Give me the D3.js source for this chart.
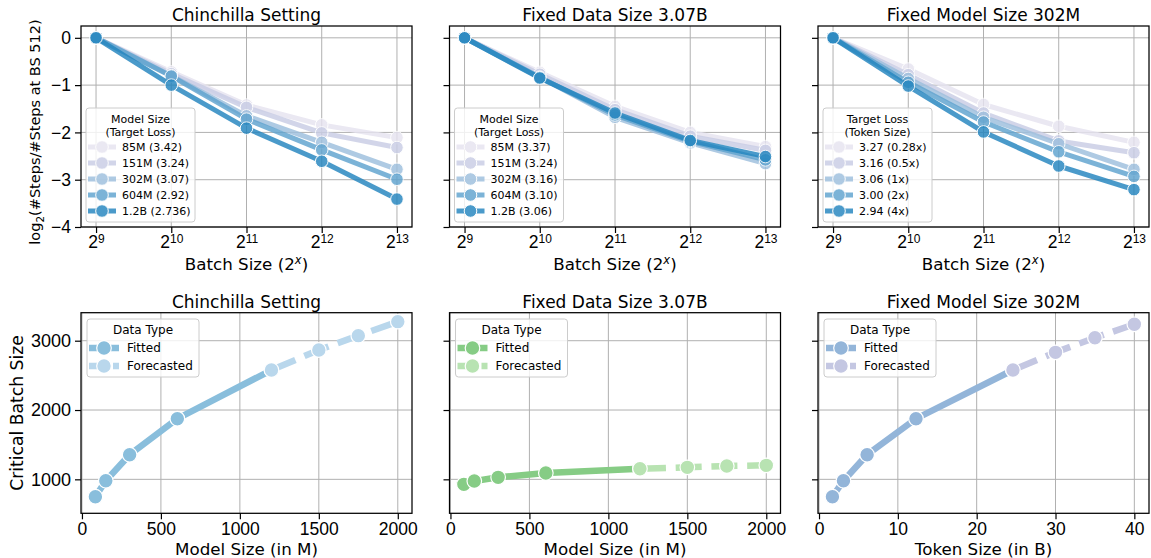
<!DOCTYPE html>
<html><head><meta charset="utf-8">
<script src="https://cdn.jsdelivr.net/npm/d3@7"></script>
<style>
body{margin:0;background:#fff;}
svg{font-family:"DejaVu Sans",sans-serif;}
</style></head><body><div id="chart"></div>
<script>
// ---- top row data: log2(#steps / #steps at BS 512) ----
var batchExp = [9, 10, 11, 12, 13];

var chinNames = ["85M (3.42)", "151M (3.24)", "302M (3.07)", "604M (2.92)", "1.2B (2.736)"];
var chinSteps = [
    [0, -0.72, -1.42, -1.84, -2.11],
    [0, -0.76, -1.47, -2.01, -2.32],
    [0, -0.80, -1.65, -2.21, -2.78],
    [0, -0.81, -1.72, -2.37, -2.99],
    [0, -1.00, -1.91, -2.61, -3.41]
];
var dataNames = ["85M (3.37)", "151M (3.24)", "302M (3.16)", "604M (3.10)", "1.2B (3.06)"];
var dataSteps = [
    [0, -0.73, -1.45, -2.00, -2.30],
    [0, -0.77, -1.52, -2.08, -2.38],
    [0, -0.83, -1.68, -2.22, -2.66],
    [0, -0.84, -1.63, -2.19, -2.58],
    [0, -0.85, -1.59, -2.17, -2.51]
];
var tokNames = ["3.27 (0.28x)", "3.16 (0.5x)", "3.06 (1x)", "3.00 (2x)", "2.94 (4x)"];
var tokSteps = [
    [0, -0.66, -1.41, -1.87, -2.21],
    [0, -0.78, -1.59, -2.18, -2.43],
    [0, -0.86, -1.68, -2.24, -2.78],
    [0, -0.94, -1.78, -2.41, -2.93],
    [0, -1.02, -1.99, -2.71, -3.21]
];

// ---- bottom row data: critical batch size ----
var modelFit = [85, 151, 302, 604, 1200];
var modelCast = [1200, 1500, 1750, 2000];
var chinCbsFit = [749, 980, 1355, 1875, 2577];
var chinCbsCast = [2577, 2866, 3073, 3275];
var dataCbsFit = [928, 975, 1029, 1091, 1153];
var dataCbsCast = [1153, 1173, 1192, 1202];
var tokenFit = [1.7, 3.1, 6.1, 12.3, 24.6];
var tokenCast = [24.6, 30, 35, 40];
var tokCbsFit = [749, 980, 1355, 1875, 2577];
var tokCbsCast = [2577, 2832, 3043, 3237];

var yTicksTop = [0, -1, -2, -3, -4];
var yTicksBot = [1000, 2000, 3000];
var xTicksModel = [0, 500, 1000, 1500, 2000];
var xTicksToken = [0, 10, 20, 30, 40];

var stepColors = ["#e6e3f0", "#c9cde5", "#9dbfdd", "#5fa3cf", "#2385bf"];

var W = 1151, H = 558;
var lefts = [81, 449.5, 818], pw = 331;
var topRow = {t: 26, b: 227}, botRow = {t: 312.7, b: 513.3};

var svg = d3.select('#chart').append('svg')
    .attr('width', W).attr('height', H);

function styleAxis(g) {
    g.selectAll('.domain').remove();
    g.selectAll('.tick line').attr('stroke', '#000').attr('stroke-width', 1.2);
    g.selectAll('.tick text').attr('fill', '#000');
}

function frame(left, row, xScale, yScale, xTicks, yTicks, yLabels, xFont, yFont) {
    var g = svg.append('g');
    // grid
    g.selectAll('.gx').data(xTicks).enter().append('line')
        .attr('x1', function(d){ return xScale(d); }).attr('x2', function(d){ return xScale(d); })
        .attr('y1', row.t).attr('y2', row.b)
        .attr('stroke', '#b0b0b0').attr('stroke-width', 1);
    g.selectAll('.gy').data(yTicks).enter().append('line')
        .attr('y1', function(d){ return yScale(d); }).attr('y2', function(d){ return yScale(d); })
        .attr('x1', left).attr('x2', left + pw)
        .attr('stroke', '#b0b0b0').attr('stroke-width', 1);

    var xa = g.append('g').attr('class', 'xaxis').attr('transform', 'translate(0,' + row.b + ')')
        .call(d3.axisBottom(xScale).tickValues(xTicks).tickSize(6).tickPadding(3).tickFormat(d3.format('d')));
    styleAxis(xa);
    xa.selectAll('text').attr('font-size', xFont);

    var ya = g.append('g').attr('transform', 'translate(' + left + ',0)')
        .call(d3.axisLeft(yScale).tickValues(yTicks).tickSize(6).tickPadding(4)
            .tickFormat(yLabels ? d3.format('d') : function(){ return ''; }));
    styleAxis(ya);
    ya.selectAll('text').attr('font-size', yFont);
    return g;
}

function spine(left, row) {
    svg.append('rect').attr('x', left).attr('y', row.t)
        .attr('width', pw).attr('height', row.b - row.t)
        .attr('fill', 'none').attr('stroke', '#000').attr('stroke-width', 1.25);
}

function legendBox(x, y, w, h) {
    svg.append('rect').attr('x', x).attr('y', y).attr('width', w).attr('height', h)
        .attr('rx', 3).attr('fill', '#fff').attr('fill-opacity', 0.8)
        .attr('stroke', '#cccccc').attr('stroke-width', 1);
}

function drawTop(k, title, names, steps, legTitle) {
    var left = lefts[k];
    var x = d3.scaleLinear().domain([8.8, 13.2]).range([left, left + pw]);
    var y = d3.scaleLinear().domain([-4, 0.25]).range([topRow.b, topRow.t]);
    var g = frame(left, topRow, x, y, batchExp, yTicksTop, k == 0, 17.5, 17.5);
    // superscript tick labels 2^x
    g.select('.xaxis').selectAll('text')
        .each(function(d){
            var t = d3.select(this).text('');
            t.append('tspan').text('2');
            t.append('tspan').attr('font-size', 12).attr('dy', '-0.45em').text(d);
        });

    var line = d3.line().x(function(d, i){ return x(batchExp[i]); }).y(function(d){ return y(d); });
    steps.forEach(function(s, i) {
        var sg = svg.append('g').attr('opacity', 0.82);
        sg.append('path').attr('d', line(s)).attr('fill', 'none')
            .attr('stroke', stepColors[i]).attr('stroke-width', 5).attr('stroke-linejoin', 'round');
        sg.selectAll('circle').data(s).enter().append('circle')
            .attr('cx', function(d, j){ return x(batchExp[j]); })
            .attr('cy', function(d){ return y(d); })
            .attr('r', 6.3).attr('fill', stepColors[i])
            .attr('stroke', '#fff').attr('stroke-width', 1);
    });
    spine(left, topRow);

    // title + axis label
    svg.append('text').attr('x', left + pw / 2).attr('y', 21).attr('text-anchor', 'middle')
        .attr('font-size', 17).text(title);
    var xl = svg.append('text').attr('x', left + pw / 2).attr('y', 270).attr('text-anchor', 'middle')
        .attr('font-size', 16.7);
    xl.append('tspan').text('Batch Size (2');
    xl.append('tspan').attr('font-size', 11.5).attr('dy', '-0.55em').attr('font-style', 'italic').text('x');
    xl.append('tspan').attr('dy', '0.35em').text(')');

    // legend
    var bx = left + 5, by = 108, bw = 109;
    legendBox(bx, by, bw, 114);
    svg.append('text').attr('x', bx + bw / 2).attr('y', 123).attr('text-anchor', 'middle')
        .attr('font-size', 11).text(legTitle[0]);
    svg.append('text').attr('x', bx + bw / 2).attr('y', 136).attr('text-anchor', 'middle')
        .attr('font-size', 11).text(legTitle[1]);
    names.forEach(function(n, i) {
        var cy = 147 + i * 16;
        var lg = svg.append('g').attr('opacity', 0.82);
        lg.append('line').attr('x1', bx + 2).attr('x2', bx + 30).attr('y1', cy).attr('y2', cy)
            .attr('stroke', stepColors[i]).attr('stroke-width', 5);
        lg.append('circle').attr('cx', bx + 16).attr('cy', cy).attr('r', 6.3)
            .attr('fill', stepColors[i]).attr('stroke', '#fff').attr('stroke-width', 1);
        svg.append('text').attr('x', bx + 36).attr('y', cy + 4).attr('font-size', 11).text(n);
    });
}

function drawBottom(k, title, xDomain, xTicks, xLabel, xf, yf, xc, yc, cFit, cCast) {
    var left = lefts[k];
    var x = d3.scaleLinear().domain(xDomain).range([left, left + pw]);
    var y = d3.scaleLinear().domain([510, 3404]).range([botRow.b, botRow.t]);
    frame(left, botRow, x, y, xTicks, yTicksBot, k == 0, 17.5, 18);

    var line = d3.line().x(function(d){ return x(d[0]); }).y(function(d){ return y(d[1]); });
    var fit = d3.zip(xf, yf), cast = d3.zip(xc, yc);
    svg.append('path').attr('d', line(fit)).attr('fill', 'none')
        .attr('stroke', cFit).attr('stroke-width', 6.5);
    svg.selectAll(null).data(fit).enter().append('circle')
        .attr('cx', function(d){ return x(d[0]); }).attr('cy', function(d){ return y(d[1]); })
        .attr('r', 7.3).attr('fill', cFit).attr('stroke', '#fff').attr('stroke-width', 1.2);
    svg.append('path').attr('d', line(cast)).attr('fill', 'none')
        .attr('stroke', cCast).attr('stroke-width', 6.5).attr('stroke-dasharray', '26,9.75');
    svg.selectAll(null).data(cast).enter().append('circle')
        .attr('cx', function(d){ return x(d[0]); }).attr('cy', function(d){ return y(d[1]); })
        .attr('r', 7.3).attr('fill', cCast).attr('stroke', '#fff').attr('stroke-width', 1.2);
    spine(left, botRow);

    svg.append('text').attr('x', left + pw / 2).attr('y', 308).attr('text-anchor', 'middle')
        .attr('font-size', 17).text(title);
    svg.append('text').attr('x', left + pw / 2).attr('y', 555).attr('text-anchor', 'middle')
        .attr('font-size', 16.7).text(xLabel);

    // legend
    var bx = left + 6, by = 319, bw = 112;
    legendBox(bx, by, bw, 58);
    svg.append('text').attr('x', bx + bw / 2).attr('y', 334).attr('text-anchor', 'middle')
        .attr('font-size', 12).text('Data Type');
    [["Fitted", cFit, null], ["Forecasted", cCast, '9,3']].forEach(function(e, i) {
        var cy = 348 + i * 18;
        var hl = svg.append('line').attr('x1', bx + 2).attr('x2', bx + 32).attr('y1', cy).attr('y2', cy)
            .attr('stroke', e[1]).attr('stroke-width', 6.5);
        if (e[2]) hl.attr('stroke-dasharray', e[2]);
        svg.append('circle').attr('cx', bx + 17).attr('cy', cy).attr('r', 7.3)
            .attr('fill', e[1]).attr('stroke', '#fff').attr('stroke-width', 1.2);
        svg.append('text').attr('x', bx + 40).attr('y', cy + 4.3).attr('font-size', 12).text(e[0]);
    });
}

drawTop(0, 'Chinchilla Setting', chinNames, chinSteps, ['Model Size', '(Target Loss)']);
drawTop(1, 'Fixed Data Size 3.07B', dataNames, dataSteps, ['Model Size', '(Target Loss)']);
drawTop(2, 'Fixed Model Size 302M', tokNames, tokSteps, ['Target Loss', '(Token Size)']);

drawBottom(0, 'Chinchilla Setting', [-6, 2090], xTicksModel, 'Model Size (in M)',
    modelFit, chinCbsFit, modelCast, chinCbsCast, '#89bedc', '#b9d7ec');
drawBottom(1, 'Fixed Data Size 3.07B', [-6, 2090], xTicksModel, 'Model Size (in M)',
    modelFit, dataCbsFit, modelCast, dataCbsCast, '#86cc85', '#b8e3b2');
drawBottom(2, 'Fixed Model Size 302M', [-0.13, 41.86], xTicksToken, 'Token Size (in B)',
    tokenFit, tokCbsFit, tokenCast, tokCbsCast, '#93b5d9', '#c4c7e2');

// y labels
var yl = svg.append('text').attr('transform', 'translate(40,132) rotate(-90)')
    .attr('text-anchor', 'middle').attr('font-size', 14.5);
yl.append('tspan').text('log');
yl.append('tspan').attr('font-size', 10.5).attr('dy', '0.35em').text('2');
yl.append('tspan').attr('dy', '-0.25em').text('(#Steps/#Steps at BS 512)');
svg.append('text').attr('transform', 'translate(23,413) rotate(-90)')
    .attr('text-anchor', 'middle').attr('font-size', 17.2).text('Critical Batch Size');
</script></body></html>
